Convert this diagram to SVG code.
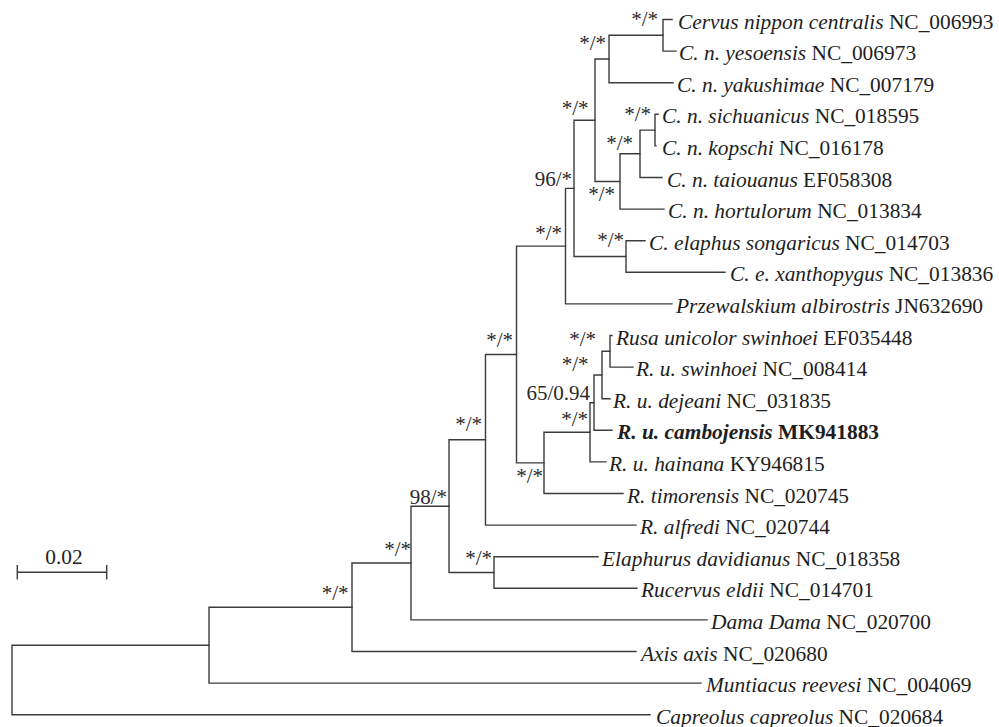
<svg xmlns="http://www.w3.org/2000/svg" width="999" height="727" viewBox="0 0 999 727">
<style>
.br{fill:none;stroke:#3c3c3c;stroke-width:1.4;stroke-linecap:square}
.tx{font-family:"Liberation Serif","Times New Roman",serif;font-size:21.4px;fill:#1e1e1e}
.it{font-style:italic}
.bs{font-family:"Liberation Serif","Times New Roman",serif;font-size:21px;fill:#2a2a2a;text-anchor:end}
.b{font-weight:bold}
</style>
<rect width="999" height="727" fill="#ffffff"/>
<g id="connectors" class="br">
<path d="M12,645.2V714.7H650M12,645.2H209"/>
<path d="M209,607.3V683.1H701M209,607.3H352"/>
<path d="M352,563V651.5H636M352,563H411"/>
<path d="M411,506.2V619.9H707M411,506.2H449"/>
<path d="M449,439.8V572.5H494M449,439.8H485.5"/>
<path d="M494,556.7V588.3H637M494,556.7H598"/>
<path d="M485.5,354.5V525.1H636M485.5,354.5H516.5"/>
<path d="M516.5,246.1V462.9H544M516.5,246.1H565.5"/>
<path d="M544,432.3V493.5H623M544,432.3H590"/>
<path d="M590,402.7V461.9H606M590,402.7H594"/>
<path d="M594,375V430.3H612M594,375H602"/>
<path d="M602,351.3V398.7H610M602,351.3H610"/>
<path d="M610,335.5V367.1H633M610,335.5H612"/>
<path d="M565.5,188.4V303.9H672M565.5,188.4H574"/>
<path d="M574,120.2V256.5H626M574,120.2H595"/>
<path d="M626,240.7V272.3H725M626,240.7H645"/>
<path d="M595,59V181.5H620M595,59H609"/>
<path d="M609,35.3V82.7H673M609,35.3H663"/>
<path d="M663,19.5V51.1H676M663,19.5H672"/>
<path d="M620,153.8V209.1H664M620,153.8H640"/>
<path d="M640,130.1V177.5H662M640,130.1H655"/>
<path d="M655,114.3V145.9H656M655,114.3H658"/>
</g>
<g id="leaves" class="tx">
<g id="n1"><text x="678" y="28.5"><tspan class="it">Cervus nippon centralis</tspan> NC_006993</text></g>
<g id="n2"><text x="679" y="60.1"><tspan class="it">C. n. yesoensis</tspan> NC_006973</text></g>
<g id="n3"><text x="677" y="91.7"><tspan class="it">C. n. yakushimae</tspan> NC_007179</text></g>
<g id="n4"><text x="662" y="123.3"><tspan class="it">C. n. sichuanicus</tspan> NC_018595</text></g>
<g id="n5"><text x="662" y="154.9"><tspan class="it">C. n. kopschi</tspan> NC_016178</text></g>
<g id="n6"><text x="667" y="186.5"><tspan class="it">C. n. taiouanus</tspan> EF058308</text></g>
<g id="n7"><text x="668" y="218.1"><tspan class="it">C. n. hortulorum</tspan> NC_013834</text></g>
<g id="n8"><text x="649" y="249.7"><tspan class="it">C. elaphus songaricus</tspan> NC_014703</text></g>
<g id="n9"><text x="730" y="281.3"><tspan class="it">C. e. xanthopygus</tspan> NC_013836</text></g>
<g id="n10"><text x="676" y="312.9"><tspan class="it">Przewalskium albirostris</tspan> JN632690</text></g>
<g id="n11"><text x="616" y="344.5"><tspan class="it">Rusa unicolor swinhoei</tspan> EF035448</text></g>
<g id="n12"><text x="636" y="376.1"><tspan class="it">R. u. swinhoei</tspan> NC_008414</text></g>
<g id="n13"><text x="613" y="407.7"><tspan class="it">R. u. dejeani</tspan> NC_031835</text></g>
<g id="n14"><text x="617" y="439.3" class="b"><tspan class="it">R. u. cambojensis</tspan> MK941883</text></g>
<g id="n15"><text x="609" y="470.9"><tspan class="it">R. u. hainana</tspan> KY946815</text></g>
<g id="n16"><text x="627" y="502.5"><tspan class="it">R. timorensis</tspan> NC_020745</text></g>
<g id="n17"><text x="640" y="534.1"><tspan class="it">R. alfredi</tspan> NC_020744</text></g>
<g id="n18"><text x="602" y="565.7"><tspan class="it">Elaphurus davidianus</tspan> NC_018358</text></g>
<g id="n19"><text x="641" y="597.3"><tspan class="it">Rucervus eldii</tspan> NC_014701</text></g>
<g id="n20"><text x="711" y="628.9"><tspan class="it">Dama Dama</tspan> NC_020700</text></g>
<g id="n21"><text x="641" y="660.5"><tspan class="it">Axis axis</tspan> NC_020680</text></g>
<g id="n22"><text x="706" y="692.1"><tspan class="it">Muntiacus reevesi</tspan> NC_004069</text></g>
<g id="n23"><text x="656" y="723.7"><tspan class="it">Capreolus capreolus</tspan> NC_020684</text></g>
</g>
<g id="support" class="bs">
<g id="nS"><text x="658" y="26">*/*</text></g>
<g id="nR"><text x="606" y="50">*/*</text></g>
<g id="nQ"><text x="588.5" y="115">*/*</text></g>
<g id="nV"><text x="651" y="121">*/*</text></g>
<g id="nU"><text x="633" y="150">*/*</text></g>
<g id="nT"><text x="615" y="201">*/*</text></g>
<g id="nP"><text x="572" y="186">96/*</text></g>
<g id="nW"><text x="624" y="247">*/*</text></g>
<g id="nG"><text x="562" y="240">*/*</text></g>
<g id="nF"><text x="513" y="347">*/*</text></g>
<g id="nL"><text x="596" y="346">*/*</text></g>
<g id="nM"><text x="588.5" y="371">*/*</text></g>
<g id="nJ"><text x="590" y="400">65/0.94</text></g>
<g id="nI"><text x="588" y="426">*/*</text></g>
<g id="nH"><text x="543" y="483">*/*</text></g>
<g id="nE"><text x="482" y="431">*/*</text></g>
<g id="nX"><text x="492" y="565">*/*</text></g>
<g id="nD"><text x="447" y="504">98/*</text></g>
<g id="nC"><text x="411" y="556">*/*</text></g>
<g id="nB"><text x="348.5" y="600">*/*</text></g>
</g>
<g id="scale">
<path class="br" d="M17.3,572.3H106.7M17.3,565.7V578.8M106.7,565.7V578.8"/>
<text class="tx" x="64" y="564" text-anchor="middle">0.02</text>
</g>
</svg>
